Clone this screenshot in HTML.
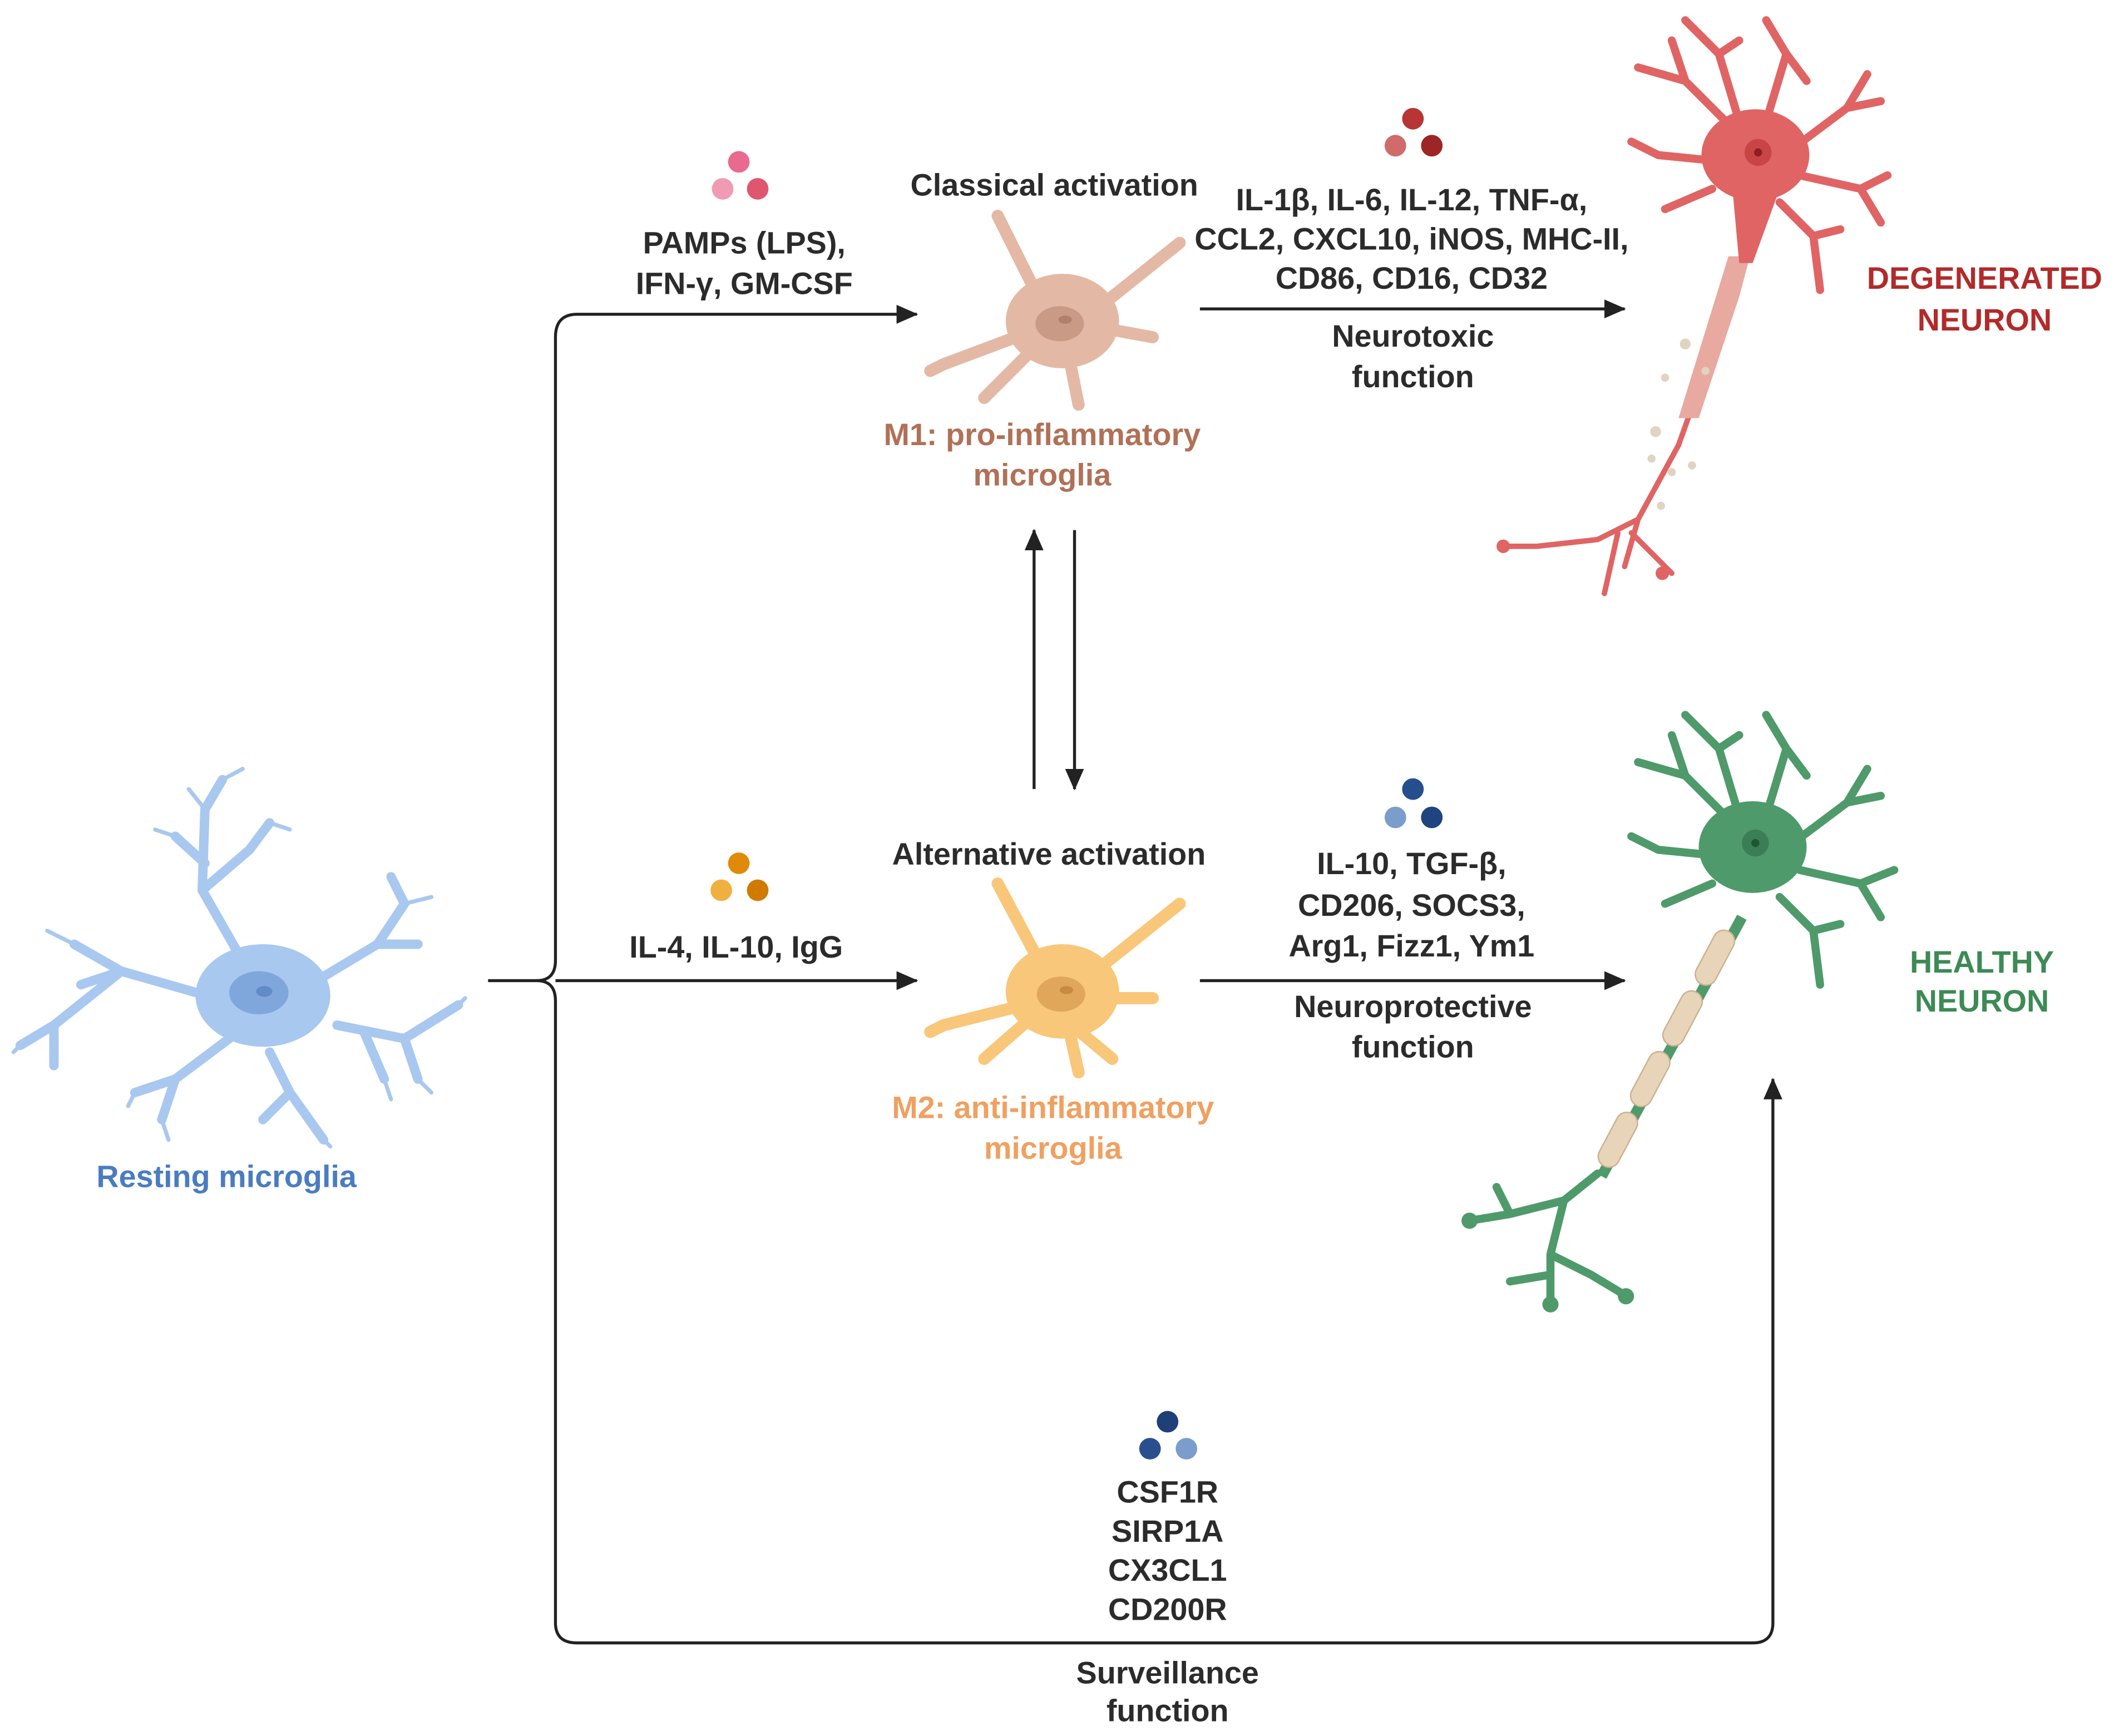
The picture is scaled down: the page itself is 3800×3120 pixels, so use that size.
<!DOCTYPE html>
<html><head><meta charset="utf-8"><style>
html,body{margin:0;padding:0;background:#fff}
svg{display:block}
text{font-family:"Liberation Sans",Arial,sans-serif;font-weight:bold;font-size:23px;text-anchor:middle;fill:#2b2b2b}
</style></head><body>
<svg width="3800" height="3120" viewBox="0 0 1568 1287" preserveAspectRatio="none" xmlns="http://www.w3.org/2000/svg">
<defs>
<marker id="ah2" markerWidth="16" markerHeight="14" refX="15" refY="7" orient="auto" markerUnits="userSpaceOnUse">
<path d="M0,0 L16,7 L0,14 z" fill="#222"/></marker>
</defs>

<g fill="none" stroke="#222" stroke-width="2.2">
<path d="M362,727 L398,727 Q412,727 412,712 L412,250 Q412,233 428,233 L680,233" marker-end="url(#ah2)"/>
<path d="M398,727 Q412,727 412,742 L412,1203 Q412,1218 428,1218 L1300,1218 Q1315,1218 1315,1203 L1315,800" marker-end="url(#ah2)"/>
<path d="M412,727 L680,727" marker-end="url(#ah2)"/>
<path d="M890,229 L1205,229" marker-end="url(#ah2)"/>
<path d="M890,727 L1205,727" marker-end="url(#ah2)"/>
<path d="M767,585 L767,393" marker-end="url(#ah2)"/>
<path d="M797,393 L797,585" marker-end="url(#ah2)"/>
</g>

<g stroke="#a9c8ef" fill="none" stroke-linecap="round" stroke-width="7">
<path d="M190,730 L150,660 L152,600 L165,578 M152,640 L130,620 M150,660 L185,630 L200,610"/>
<path d="M160,740 L90,720 L55,700 M90,720 L40,760 L15,775 M40,760 L40,790 M90,720 L60,730"/>
<path d="M170,770 L130,800 L120,830 M130,800 L100,810"/>
<path d="M200,780 L215,810 L240,845 M215,810 L195,830"/>
<path d="M230,730 L280,700 L300,670 L290,650 M280,700 L310,700 M250,760 L300,770 L340,745 M300,770 L310,800 M270,765 L285,800"/>
</g>
<g stroke="#a9c8ef" fill="none" stroke-linecap="round" stroke-width="3">
<path d="M152,600 L140,585 M165,578 L180,570 M200,610 L215,615 M55,700 L35,690 M15,775 L10,780 M120,830 L125,845 M240,845 L245,850 M300,670 L320,665 M340,745 L345,740 M310,800 L320,810 M285,800 L290,815 M130,620 L115,615 M100,810 L95,820"/>
</g>
<ellipse cx="195" cy="738" rx="50" ry="38" fill="#a9c8ef"/>
<ellipse cx="192" cy="736" rx="22" ry="16" fill="#7fa7dc"/>
<ellipse cx="196" cy="735" rx="6" ry="4" fill="#5f8bc8"/>
<text x="168" y="880" style="fill:#4a7cc0">Resting microglia</text>

<g stroke="#e3b9a5" fill="none" stroke-linecap="round" stroke-width="9">
<path d="M780,240 L740,160 M780,240 L700,270 L690,275 M790,250 L800,300 M800,240 L850,200 L875,180 M800,240 L855,250 M770,255 L730,295"/>
</g>
<ellipse cx="788" cy="238" rx="42" ry="35" fill="#e3b9a5"/>
<ellipse cx="786" cy="240" rx="18" ry="13" fill="#c99a85"/>
<ellipse cx="790" cy="237" rx="5" ry="3" fill="#b0806c"/>

<g stroke="#f8c77a" fill="none" stroke-linecap="round" stroke-width="9">
<path d="M780,730 L740,655 M780,740 L700,760 L690,765 M790,750 L800,795 M800,730 L850,690 L875,670 M800,740 L855,740 M770,750 L730,785 M795,760 L825,785"/>
</g>
<ellipse cx="788" cy="735" rx="42" ry="35" fill="#f8c77a"/>
<ellipse cx="787" cy="737" rx="18" ry="13" fill="#e0a75a"/>
<ellipse cx="791" cy="734" rx="5" ry="3" fill="#c88a40"/>

<g>
<circle cx="548" cy="120" r="8" fill="#e86b8f"/><circle cx="536" cy="140" r="8" fill="#f19ab4"/><circle cx="562" cy="140" r="8" fill="#e0566f"/>
<circle cx="1048" cy="88" r="8" fill="#b73535"/><circle cx="1035" cy="108" r="8" fill="#d06b6b"/><circle cx="1062" cy="108" r="8" fill="#9e2525"/>
<circle cx="548" cy="640" r="8" fill="#e08a0a"/><circle cx="535" cy="660" r="8" fill="#f0b040"/><circle cx="562" cy="660" r="8" fill="#d07a00"/>
<circle cx="1048" cy="585" r="8" fill="#254f8c"/><circle cx="1035" cy="606" r="8" fill="#7b9dcc"/><circle cx="1062" cy="606" r="8" fill="#1f4480"/>
<circle cx="866" cy="1054" r="8" fill="#1f3f78"/><circle cx="853" cy="1074" r="8" fill="#2a4f8e"/><circle cx="880" cy="1074" r="8" fill="#7b9dcc"/>
</g>

<text x="782" y="145">Classical activation</text>
<text x="552" y="188">PAMPs (LPS),</text>
<text x="552" y="218">IFN-γ, GM-CSF</text>
<text x="1047" y="156">IL-1β, IL-6, IL-12, TNF-α,</text>
<text x="1047" y="185">CCL2, CXCL10, iNOS, MHC-II,</text>
<text x="1047" y="214">CD86, CD16, CD32</text>
<text x="1048" y="257">Neurotoxic</text>
<text x="1048" y="287">function</text>
<text x="773" y="330" style="fill:#b07157">M1: pro-inflammatory</text>
<text x="773" y="360" style="fill:#b07157">microglia</text>
<text x="778" y="641">Alternative activation</text>
<text x="546" y="710">IL-4, IL-10, IgG</text>
<text x="1047" y="648">IL-10, TGF-β,</text>
<text x="1047" y="679">CD206, SOCS3,</text>
<text x="1047" y="709">Arg1, Fizz1, Ym1</text>
<text x="1048" y="754">Neuroprotective</text>
<text x="1048" y="784">function</text>
<text x="781" y="829" style="fill:#f0a060">M2: anti-inflammatory</text>
<text x="781" y="859" style="fill:#f0a060">microglia</text>
<text x="866" y="1114">CSF1R</text>
<text x="866" y="1143">SIRP1A</text>
<text x="866" y="1172">CX3CL1</text>
<text x="866" y="1201">CD200R</text>
<text x="866" y="1248">Surveillance</text>
<text x="866" y="1276">function</text>
<text x="1472" y="214" style="fill:#b22a2a">DEGENERATED</text>
<text x="1472" y="245" style="fill:#b22a2a">NEURON</text>
<text x="1470" y="721" style="fill:#3d8a55">HEALTHY</text>
<text x="1470" y="750" style="fill:#3d8a55">NEURON</text>

<g stroke="#e06464" fill="none" stroke-linecap="round" stroke-width="6">
<path d="M1300,110 L1250,60 L1215,50 M1250,60 L1240,30 M1290,90 L1275,40 L1250,15 M1275,40 L1290,30 M1310,90 L1325,40 L1310,15 M1325,40 L1340,60 M1330,110 L1370,80 L1385,55 M1370,80 L1395,75 M1335,130 L1380,140 L1400,130 M1380,140 L1395,165 M1320,150 L1345,175 L1350,215 M1345,175 L1365,170 M1280,120 L1230,115 L1210,105 M1270,140 L1235,155"/>
</g>
<g stroke="#e06464" fill="none" stroke-linecap="round" stroke-width="4">
<path d="M1295,190 L1245,330 L1215,385 L1185,400 L1140,405 L1115,405 M1215,385 L1205,420 M1200,395 L1190,440 M1210,395 L1240,425"/>
</g>
<path d="M1282,190 L1298,190 L1290,220 L1260,310 L1245,310 z" fill="#e8a9a0"/>
<g fill="#e0d3c0"><circle cx="1250" cy="255" r="4"/><circle cx="1235" cy="280" r="3"/><circle cx="1265" cy="275" r="3"/><circle cx="1228" cy="320" r="4"/><circle cx="1240" cy="350" r="3"/><circle cx="1255" cy="345" r="3"/><circle cx="1232" cy="375" r="3"/><circle cx="1225" cy="340" r="3"/></g>
<ellipse cx="1302" cy="115" rx="40" ry="34" fill="#e06464"/>
<path d="M1285,140 L1320,140 L1300,195 L1290,195 z" fill="#e06464"/>
<circle cx="1304" cy="113" r="10" fill="#c84545"/><circle cx="1304" cy="113" r="3" fill="#8a2020"/>
<circle cx="1115" cy="405" r="5" fill="#e06464"/><circle cx="1233" cy="425" r="5" fill="#e06464"/>

<g stroke="#4f9a6a" fill="none" stroke-linecap="round" stroke-width="6">
<path d="M1300,625 L1250,575 L1215,565 M1250,575 L1240,545 M1290,605 L1275,555 L1250,530 M1275,555 L1290,545 M1310,605 L1325,555 L1310,530 M1325,555 L1340,575 M1330,625 L1370,595 L1385,570 M1370,595 L1395,590 M1335,645 L1380,655 L1405,645 M1380,655 L1395,680 M1320,665 L1345,690 L1350,730 M1345,690 L1365,685 M1280,635 L1230,630 L1210,620 M1270,655 L1235,670"/>
<path d="M1185,870 L1160,890 L1120,900 L1090,905 M1160,890 L1150,930 L1150,965 M1150,930 L1180,945 L1205,960 M1120,900 L1110,880 M1150,945 L1120,950"/>
</g>
<path d="M1292,680 L1188,872" stroke="#4f9a6a" stroke-width="8" fill="none"/>
<g fill="#e8d4b8" stroke="#c9b090" stroke-width="1">
<rect x="-8" y="-22" width="16" height="44" rx="8" transform="translate(1272,710) rotate(28)"/>
<rect x="-8" y="-22" width="16" height="44" rx="8" transform="translate(1248,755) rotate(28)"/>
<rect x="-8" y="-22" width="16" height="44" rx="8" transform="translate(1224,800) rotate(28)"/>
<rect x="-8" y="-22" width="16" height="44" rx="8" transform="translate(1200,845) rotate(28)"/>
</g>
<ellipse cx="1300" cy="628" rx="40" ry="34" fill="#4f9a6a"/>
<circle cx="1302" cy="625" r="10" fill="#3b7e55"/><circle cx="1302" cy="625" r="3" fill="#1e5533"/>
<circle cx="1090" cy="905" r="6" fill="#4f9a6a"/><circle cx="1150" cy="967" r="6" fill="#4f9a6a"/><circle cx="1206" cy="961" r="6" fill="#4f9a6a"/>
</svg>
</body></html>
